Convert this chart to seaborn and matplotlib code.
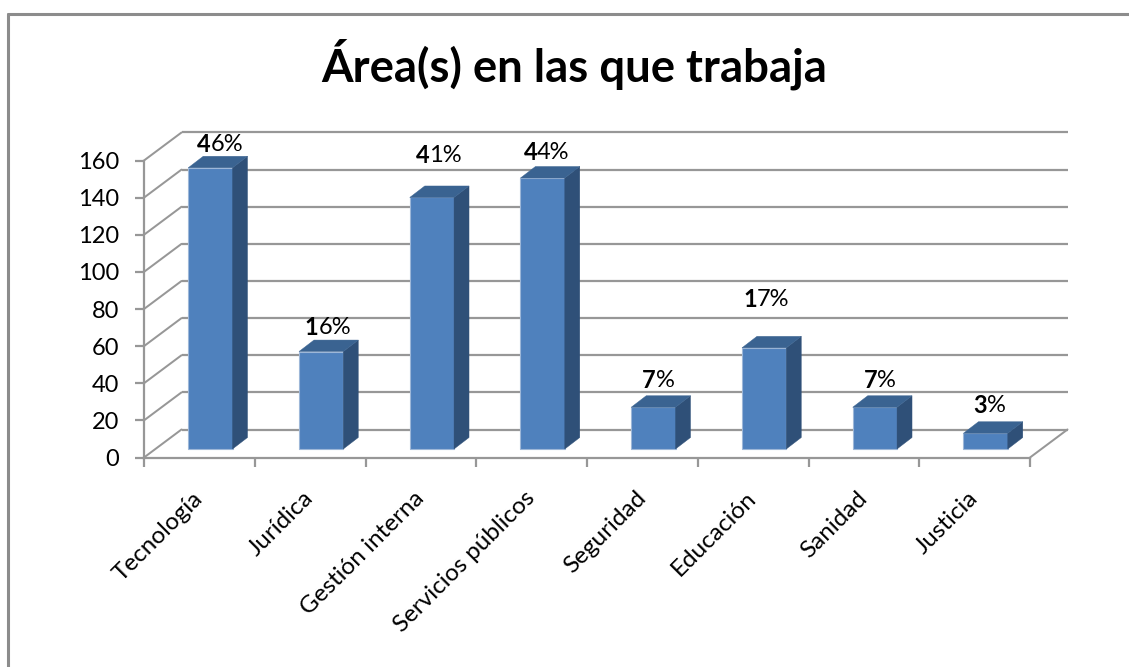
import matplotlib
matplotlib.use("Agg")
import matplotlib.pyplot as plt
from matplotlib.lines import Line2D
from matplotlib.patches import Polygon
from matplotlib.transforms import Affine2D
import seaborn as sns
import pandas as pd

categories = ["Tecnología", "Jurídica", "Gestión interna", "Servicios públicos",
              "Seguridad", "Educación", "Sanidad", "Justicia"]
values = [151.5, 52.5, 135.5, 146, 22.5, 54.5, 22.5, 8.5]
labels = ["46%", "16%", "41%", "44%", "7%", "17%", "7%", "3%"]
y_ticks = [0, 20, 40, 60, 80, 100, 120, 140, 160]

# label placement relative to bar top / centre, in pixels
label_dx = [10, 7, 7, 4, 5, 2, 5, 4]
label_lift = [12, 13, 30, 14, 15, 37, 15, 16]

FRONT = "#4F81BD"
SIDE = "#2F5078"
TOP = "#3A6391"
EDGE = "#9DB7D8"
GRID = "#979797"

W, H = 1129, 667
DPI = 100
sns.set_theme(style="white")
plt.rcParams["font.family"] = ["Lato", "DejaVu Sans"]

fig = plt.figure(figsize=(W / DPI, H / DPI), dpi=DPI, facecolor="white")
L, R, T, B = 144, 1030, 160.5, 457.5
ax = fig.add_axes([L / W, 1 - B / H, (R - L) / W, (B - T) / H])
ax.patch.set_alpha(0)

df = pd.DataFrame({"area": categories, "valor": values})
sns.barplot(data=df, x="area", y="valor", color=FRONT, saturation=1, width=0.4,
            ax=ax, zorder=3, linewidth=0.8, edgecolor=EDGE)
ax.set_xlim(-0.5, 7.5)
ax.set_ylim(0, 160)
ax.set_xlabel("")
ax.set_ylabel("")

ux = (R - L) / 8      # px per category
uy = (B - T) / 160    # px per value unit


def px(dx, dy):
    return dx / ux, dy / uy


# back wall and floor
back_dx, back_dy = px(37.5, 28)
lw = 1.6
for v in y_ticks:
    ax.plot([7.5 + back_dx, -0.5 + back_dx], [v + back_dy, v + back_dy], color=GRID, lw=lw,
            zorder=1, clip_on=False, solid_capstyle="butt")
    ax.plot([-0.5, -0.5 + back_dx], [v, v + back_dy], color=GRID, lw=lw * 0.9, zorder=1,
            clip_on=False)
ax.plot([7.5, 7.5 + back_dx], [0, back_dy], color=GRID, lw=lw * 0.9, zorder=1, clip_on=False)

# bars: front faces from seaborn, shifted into the depth of the plot
sx, sy = px(11, 8.5)
side_x, side_y = px(15, 11.5)
for patch in ax.patches:
    x0, w, h = patch.get_x(), patch.get_width(), patch.get_height()
    patch.set_transform(Affine2D().translate(sx, sy) + ax.transData)
    patch.set_clip_on(False)
    xl, xr, yb, yt = x0 + sx, x0 + w + sx, sy, h + sy
    ax.add_patch(Polygon([(xr, yb), (xr + side_x, yb + side_y), (xr + side_x, yt + side_y), (xr, yt)],
                         closed=True, fc=SIDE, ec=SIDE, lw=0.3, zorder=3, clip_on=False))
    ax.add_patch(Polygon([(xl, yt), (xr, yt), (xr + side_x, yt + side_y), (xl + side_x, yt + side_y)],
                         closed=True, fc=TOP, ec=TOP, lw=0.3, zorder=3, clip_on=False))

# axes
for s in ("top", "right"):
    ax.spines[s].set_visible(False)
for s in ("left", "bottom"):
    ax.spines[s].set_color(GRID)
    ax.spines[s].set_linewidth(lw)
ax.set_yticks(y_ticks)
ax.set_xticks([i - 0.5 for i in range(9)])
ax.set_xticklabels([])
ax.set_xticks(range(8), categories, minor=True)
ax.tick_params(axis="y", which="major", length=6.5, width=lw, color=GRID, labelsize=17,
               labelcolor="black", pad=11.5, left=True)
ax.tick_params(axis="x", which="major", length=6.5, width=lw, color=GRID, bottom=True)
ax.tick_params(axis="x", which="minor", length=0, labelsize=17.5, labelcolor="black", pad=27, bottom=False)
for t in ax.get_xticklabels(minor=True):
    t.set_rotation(45)
    t.set_ha("right")
    t.set_va("center")
    t.set_rotation_mode("anchor")

# data labels: first digit bold, remainder regular
fig.canvas.draw()
r = fig.canvas.get_renderer()
for i, (val, txt) in enumerate(zip(values, labels)):
    cx = i + sx + px(label_dx[i], 0)[0]
    cy = val + sy + side_y + px(0, label_lift[i])[1]
    bold = ax.text(cx, cy, txt[0], fontsize=17, fontweight="bold", va="center", ha="left",
                   color="black", zorder=5)
    rest = ax.text(cx, cy, txt[1:], fontsize=17, va="center", ha="left", color="black", zorder=5)
    wb = bold.get_window_extent(r).width
    wr = rest.get_window_extent(r).width
    start = cx - (wb + wr) / 2 / ux
    bold.set_x(start)
    rest.set_x(start + wb / ux)

fig.text(574.5 / W, 1 - 64 / H, "Área(s) en las que trabaja", fontsize=32.8, fontweight="bold",
         ha="center", va="center", color="black")

# chart frame: only the left and top edges fall inside the crop
frame_x, frame_y = 8 / W, 1 - 13.5 / H
frame = dict(color="#8C8C8C", lw=2.2, transform=fig.transFigure, zorder=10)
fig.add_artist(Line2D([frame_x, frame_x], [0, frame_y], **frame))
fig.add_artist(Line2D([frame_x, 1], [frame_y, frame_y], **frame))

fig.savefig("out.png", dpi=DPI, facecolor="white")
